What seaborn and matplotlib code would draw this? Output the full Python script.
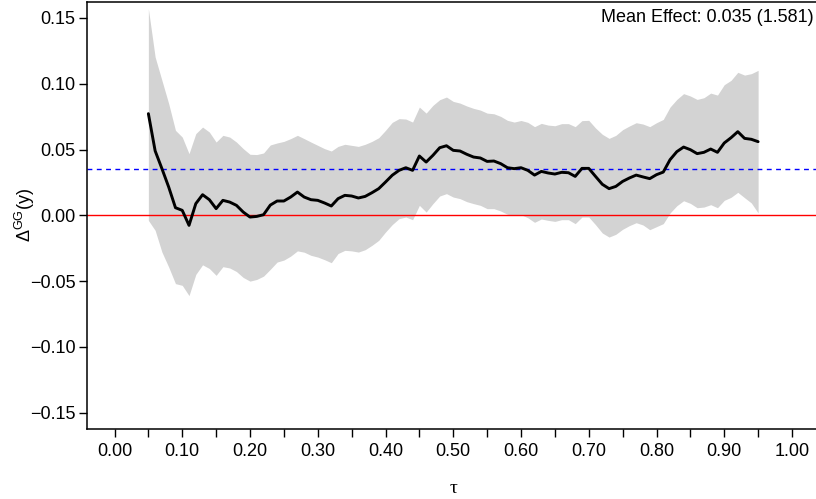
import numpy as np
import pandas as pd
import matplotlib
matplotlib.use("Agg")
import matplotlib.pyplot as plt
from matplotlib.ticker import FixedLocator, FuncFormatter
import seaborn as sns

# Quantile grid and estimated effect with its pointwise confidence band
tau = [0.05, 0.06, 0.07, 0.08, 0.09, 0.10, 0.11, 0.12, 0.13, 0.14,
       0.15, 0.16, 0.17, 0.18, 0.19, 0.20, 0.21, 0.22, 0.23, 0.24,
       0.25, 0.26, 0.27, 0.28, 0.29, 0.30, 0.31, 0.32, 0.33, 0.34,
       0.35, 0.36, 0.37, 0.38, 0.39, 0.40, 0.41, 0.42, 0.43, 0.44,
       0.45, 0.46, 0.47, 0.48, 0.49, 0.50, 0.51, 0.52, 0.53, 0.54,
       0.55, 0.56, 0.57, 0.58, 0.59, 0.60, 0.61, 0.62, 0.63, 0.64,
       0.65, 0.66, 0.67, 0.68, 0.69, 0.70, 0.71, 0.72, 0.73, 0.74,
       0.75, 0.76, 0.77, 0.78, 0.79, 0.80, 0.81, 0.82, 0.83, 0.84,
       0.85, 0.86, 0.87, 0.88, 0.89, 0.90, 0.91, 0.92, 0.93, 0.94,
       0.95]

effect = [0.0773, 0.0490, 0.0355, 0.0215, 0.0058, 0.0038, -0.0076, 0.0089, 0.0157, 0.0119,
          0.0051, 0.0114, 0.0101, 0.0076, 0.0025, -0.0013, -0.0008, 0.0005, 0.0078, 0.0109,
          0.0109, 0.0139, 0.0177, 0.0139, 0.0119, 0.0114, 0.0094, 0.0071, 0.0127, 0.0152,
          0.0147, 0.0132, 0.0144, 0.0172, 0.0203, 0.0253, 0.0305, 0.0342, 0.0362, 0.0342,
          0.0451, 0.0405, 0.0456, 0.0514, 0.0529, 0.0494, 0.0489, 0.0464, 0.0443, 0.0436,
          0.0410, 0.0413, 0.0393, 0.0362, 0.0355, 0.0362, 0.0342, 0.0306, 0.0334, 0.0322,
          0.0314, 0.0327, 0.0324, 0.0296, 0.0357, 0.0357, 0.0296, 0.0236, 0.0203, 0.0220,
          0.0258, 0.0284, 0.0306, 0.0292, 0.0279, 0.0309, 0.0329, 0.0423, 0.0484, 0.0519,
          0.0499, 0.0469, 0.0479, 0.0504, 0.0479, 0.0550, 0.0590, 0.0636, 0.0585, 0.0578,
          0.0560]

upper = [0.1570, 0.1203, 0.1026, 0.0849, 0.0646, 0.0595, 0.0469, 0.0621, 0.0671, 0.0633,
         0.0557, 0.0608, 0.0595, 0.0557, 0.0507, 0.0464, 0.0462, 0.0474, 0.0535, 0.0550,
         0.0562, 0.0583, 0.0608, 0.0583, 0.0557, 0.0532, 0.0507, 0.0489, 0.0524, 0.0540,
         0.0532, 0.0524, 0.0540, 0.0562, 0.0590, 0.0646, 0.0707, 0.0735, 0.0732, 0.0709,
         0.0823, 0.0777, 0.0836, 0.0879, 0.0899, 0.0866, 0.0853, 0.0831, 0.0813, 0.0800,
         0.0777, 0.0772, 0.0752, 0.0722, 0.0709, 0.0721, 0.0707, 0.0674, 0.0699, 0.0686,
         0.0681, 0.0697, 0.0697, 0.0674, 0.0720, 0.0722, 0.0664, 0.0616, 0.0585, 0.0608,
         0.0651, 0.0679, 0.0704, 0.0694, 0.0674, 0.0704, 0.0729, 0.0823, 0.0881, 0.0925,
         0.0907, 0.0881, 0.0894, 0.0929, 0.0914, 0.0993, 0.1026, 0.1087, 0.1066, 0.1077,
         0.1102]

lower = [-0.0038, -0.0114, -0.0279, -0.0393, -0.0519, -0.0532, -0.0610, -0.0449, -0.0376, -0.0404,
         -0.0456, -0.0390, -0.0400, -0.0427, -0.0472, -0.0500, -0.0487, -0.0462, -0.0410, -0.0355,
         -0.0340, -0.0310, -0.0270, -0.0280, -0.0304, -0.0317, -0.0337, -0.0360, -0.0290, -0.0266,
         -0.0270, -0.0279, -0.0261, -0.0228, -0.0190, -0.0127, -0.0070, -0.0025, -0.0013, -0.0033,
         0.0076, 0.0025, 0.0089, 0.0147, 0.0165, 0.0139, 0.0127, 0.0104, 0.0089, 0.0076,
         0.0051, 0.0051, 0.0033, 0.0008, 0.0000, 0.0005, -0.0018, -0.0053, -0.0028, -0.0038,
         -0.0046, -0.0033, -0.0033, -0.0063, -0.0013, -0.0013, -0.0071, -0.0134, -0.0165, -0.0144,
         -0.0106, -0.0078, -0.0056, -0.0073, -0.0109, -0.0086, -0.0063, 0.0018, 0.0073, 0.0111,
         0.0091, 0.0058, 0.0063, 0.0081, 0.0058, 0.0114, 0.0137, 0.0175, 0.0134, 0.0094,
         0.0018]

mean_effect = 0.035
mean_effect_se = 1.581

x_ticks = [0.00, 0.05, 0.10, 0.15, 0.20, 0.25, 0.30, 0.35, 0.40, 0.45, 0.50,
           0.55, 0.60, 0.65, 0.70, 0.75, 0.80, 0.85, 0.90, 0.95, 1.00]
x_tick_labels = ["0.00", "", "0.10", "", "0.20", "", "0.30", "", "0.40", "", "0.50",
                 "", "0.60", "", "0.70", "", "0.80", "", "0.90", "", "1.00"]
y_ticks = [-0.15, -0.10, -0.05, 0.00, 0.05, 0.10, 0.15]

df = pd.DataFrame({"tau": tau, "effect": effect, "upper": upper, "lower": lower})

sns.set_theme(style="white")
plt.rcParams["font.family"] = ["Liberation Sans", "DejaVu Sans"]
plt.rcParams["text.color"] = "black"
plt.rcParams["axes.labelcolor"] = "black"
plt.rcParams["mathtext.fontset"] = "custom"
plt.rcParams["mathtext.rm"] = "Liberation Sans"
plt.rcParams["mathtext.it"] = "Liberation Sans"
plt.rcParams["mathtext.bf"] = "Liberation Sans:bold"

fig = plt.figure(figsize=(8.16, 4.99), dpi=100)
ax = fig.add_axes([87.4 / 816, 1 - 428.5 / 499, 731.7 / 816, 426.3 / 499])

ax.fill_between(df["tau"], df["lower"], df["upper"], color="#D3D3D3", lw=0, zorder=1)
ax.axhline(0, color="#FF0000", lw=1.0, zorder=2)
ax.axhline(mean_effect, color="#0000FF", lw=1.0, ls=(0, (3.5, 3.2)), zorder=2)
sns.lineplot(data=df, x="tau", y="effect", color="black", lw=2.1, ax=ax,
             estimator=None, sort=False, zorder=3)

ax.set_xlim(-0.04, 1.04)
ax.set_ylim(-0.162, 0.162)

ax.xaxis.set_major_locator(FixedLocator(x_ticks))
ax.set_xticklabels(x_tick_labels)
ax.yaxis.set_major_locator(FixedLocator(y_ticks))
ax.yaxis.set_major_formatter(FuncFormatter(lambda v, p: f"{v:.2f}".replace("-", "\u2212")))

ax.tick_params(axis="both", which="major", direction="out", length=6, width=1.0,
               color="black", labelsize=13, labelcolor="black", left=True, bottom=True)
ax.tick_params(axis="x", pad=4.5)
ax.tick_params(axis="y", pad=2.5)

for side in ["left", "bottom", "top", "right"]:
    ax.spines[side].set_visible(True)
    ax.spines[side].set_color("black")
    ax.spines[side].set_linewidth(1.1)

ax.set_xlabel("\u03c4", fontsize=14, family=["Liberation Serif", "DejaVu Serif"])
ax.xaxis.set_label_coords(0.5, -0.14)
ax.xaxis.label.set_va("center")
ax.set_ylabel(r"$\Delta^{\mathrm{GG}}\mathrm{(y)}$", fontsize=13)
ax.yaxis.set_label_coords(-0.0853, 0.5)
ax.yaxis.label.set_va("center")

ax.annotate(f"Mean Effect: {mean_effect:.3f} ({mean_effect_se:.3f})",
            xy=(1, 1), xycoords="axes fraction", xytext=(-3.9, -10.7),
            textcoords="offset points", ha="right", va="center", fontsize=13)

fig.savefig("out.png", dpi=100)
